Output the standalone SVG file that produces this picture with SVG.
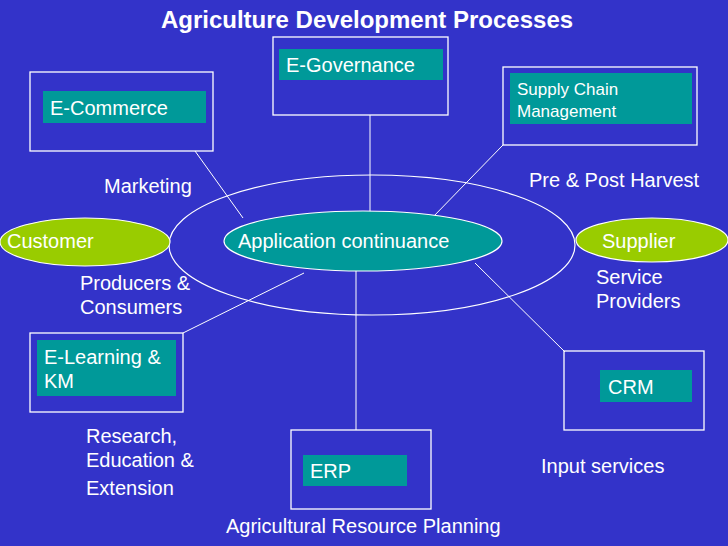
<svg xmlns="http://www.w3.org/2000/svg" width="728" height="546" viewBox="0 0 728 546">
<style>
  text { font-family: "Liberation Sans", Arial, sans-serif; fill: #ffffff; font-size: 20px; }
  .title { font-weight: bold; font-size: 24px; }
  .small { font-size: 17px; }
  .frame { fill: none; stroke: #ffffff; stroke-width: 1.3; }
  .tag { fill: #009999; stroke: none; }
  .conn { stroke: #ffffff; stroke-width: 1; fill: none; }
  .ring { fill: none; stroke: #ffffff; stroke-width: 1.2; }
  .lime { fill: #99CC00; stroke: #ffffff; stroke-width: 1.2; }
  .teal { fill: #009999; stroke: #ffffff; stroke-width: 1.2; }
</style>
<rect x="0" y="0" width="728" height="546" fill="#3333C9"/>
<text class="title" x="367" y="28" text-anchor="middle">Agriculture Development Processes</text>

<g id="outer-ellipse">
  <ellipse class="ring" cx="372" cy="245" rx="203" ry="70"/>
</g>

<g id="connectors">
  <line class="conn" x1="195" y1="151" x2="243" y2="218"/>
  <line class="conn" x1="370" y1="115" x2="370" y2="212"/>
  <line class="conn" x1="503" y1="145" x2="432" y2="218"/>
  <line class="conn" x1="183" y1="333" x2="304" y2="273"/>
  <line class="conn" x1="356" y1="271" x2="356" y2="430"/>
  <line class="conn" x1="475" y1="263" x2="565" y2="352"/>
</g>

<g id="customer">
  <ellipse class="lime" cx="85" cy="242" rx="85" ry="24"/>
  <text x="7" y="248">Customer</text>
</g>

<g id="supplier">
  <ellipse class="lime" cx="652" cy="240" rx="76" ry="22"/>
  <text x="602" y="248">Supplier</text>
</g>

<g id="app">
  <ellipse class="teal" cx="363" cy="241" rx="139" ry="30"/>
  <text x="238" y="248">Application continuance</text>
</g>

<g id="ecommerce">
  <rect class="frame" x="30" y="72" width="183" height="79"/>
  <rect class="tag" x="43" y="91" width="163" height="32"/>
  <text x="50" y="115">E-Commerce</text>
</g>

<g id="egovernance">
  <rect class="frame" x="273" y="37" width="175" height="78"/>
  <rect class="tag" x="279" y="49" width="164" height="31"/>
  <text x="286" y="72">E-Governance</text>
</g>

<g id="supplychain">
  <rect class="frame" x="503" y="67" width="194" height="78"/>
  <rect class="tag" x="510" y="73" width="182" height="51"/>
  <text class="small" x="517" y="95">Supply Chain</text>
  <text class="small" x="517" y="117">Management</text>
</g>

<g id="elearning">
  <rect class="frame" x="30" y="333" width="153" height="79"/>
  <rect class="tag" x="37" y="340" width="139" height="56"/>
  <text x="44" y="364">E-Learning &amp;</text>
  <text x="44" y="388">KM</text>
</g>

<g id="erp">
  <rect class="frame" x="291" y="430" width="140" height="79"/>
  <rect class="tag" x="303" y="455" width="104" height="31"/>
  <text x="310" y="478">ERP</text>
</g>

<g id="crm">
  <rect class="frame" x="564" y="351" width="140" height="79"/>
  <rect class="tag" x="600" y="370" width="92" height="32"/>
  <text x="608" y="394">CRM</text>
</g>

<g id="labels">
  <text x="104" y="193">Marketing</text>
  <text x="529" y="187">Pre &amp; Post Harvest</text>
  <text x="80" y="290">Producers &amp;</text>
  <text x="80" y="314">Consumers</text>
  <text x="596" y="284">Service</text>
  <text x="596" y="308">Providers</text>
  <text x="86" y="443">Research,</text>
  <text x="86" y="467">Education &amp;</text>
  <text x="86" y="495">Extension</text>
  <text x="541" y="473">Input services</text>
  <text x="226" y="533">Agricultural Resource Planning</text>
</g>
</svg>
